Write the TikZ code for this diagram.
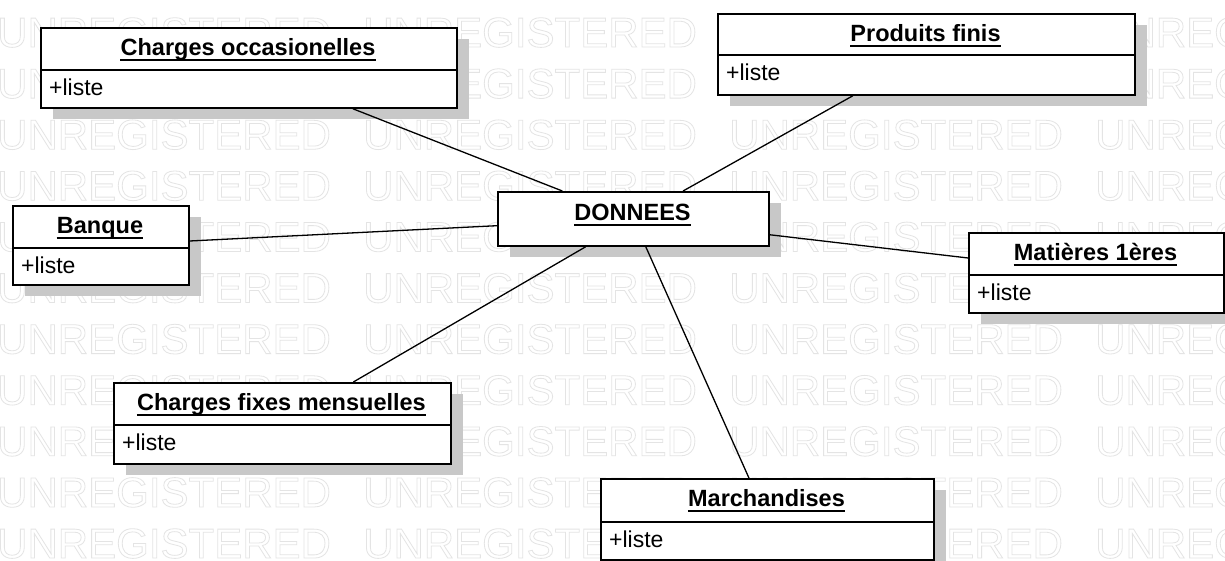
\documentclass[tikz,border=0pt]{standalone}
\usepackage{fontspec}
\setmainfont{Liberation Sans}
\definecolor{shadowc}{HTML}{C8C8C8}
\definecolor{wmc}{HTML}{E4E4E4}
\newcommand\outlinetext[1]{\special{pdf:literal 1 Tr 0.8 w}#1\special{pdf:literal 0 Tr}}
\tikzset{
  wm/.style={inner sep=0pt, text=wmc, font=\fontsize{42}{42}\selectfont},
  classbox/.style={draw=black, fill=white, line width=1.8pt, inner sep=0pt},
  titlef/.style={inner sep=0pt, font=\fontsize{23.5}{28}\selectfont\bfseries},
  attrf/.style={inner sep=0pt, font=\fontsize{23}{28}\selectfont},
  ulin/.style={line width=1.4pt},
  divline/.style={line width=1.8pt},
  conn/.style={line width=1.3pt}
}
\newcommand\umlcls[7]{% name,l,t,r,b,div,title
  \pgfmathsetmacro\cw{#4-#2}\pgfmathsetmacro\ch{#5-#3}%
  \fill[shadowc] (#2+13,#3+12) rectangle (#4+13,#5+12);
  \node[classbox,minimum width=\cw pt,minimum height=\ch pt,anchor=north west] (#1) at (#2,#3) {};
  \node[titlef,anchor=base] (#1-t) at ({(#2+#4)/2},#3+28) {#7};
  \draw[ulin] ([yshift=-5pt]#1-t.base west) -- ([yshift=-5pt]#1-t.base east);
  \draw[divline] (#2,#6) -- (#4,#6);
  \node[attrf,anchor=base west] (#1-a) at (#2+9,#6+25) {+liste};
}
\begin{document}
\begin{tikzpicture}[x=1pt,y=-1pt]
\useasboundingbox (0,0) rectangle (1225,560);
\fill[white] (0,0) rectangle (1225,560);
% watermark
\foreach \r in {0,...,10}{
  \foreach \c in {0,...,3}{
    \node[wm,anchor=base west] (wm-\r-\c) at ({366*\c-3},{47+51.1*\r}) {\outlinetext{UNREGISTERED}};
  }
}
% DONNEES
\fill[shadowc] (497+13,191+12) rectangle (768+13,245+12);
\node[classbox,minimum width=271pt,minimum height=54pt,anchor=north west] (do) at (497,191) {};
\node[titlef,anchor=base] (do-t) at (632.5,220) {DONNEES};
\draw[ulin] ([yshift=-5pt]do-t.base west) -- ([yshift=-5pt]do-t.base east);
% classes
\umlcls{co}{40}{27}{456}{107}{70}{Charges occasionelles}
\umlcls{pf}{717}{13}{1134}{94}{55}{Produits finis}
\umlcls{ba}{12}{205}{188}{284}{248}{Banque}
\umlcls{ma}{968}{232}{1223}{312}{275}{Matières 1ères}
\umlcls{cf}{113}{382}{450}{463}{425}{Charges fixes mensuelles}
\umlcls{mc}{600}{478}{933}{559}{522}{Marchandises}
% connectors
\draw[conn] (co) -- (do);
\draw[conn] (pf) -- (do);
\draw[conn] (ba) -- (do);
\draw[conn] (do) -- (ma);
\draw[conn] (do) -- (cf);
\draw[conn] (do) -- (mc);
\end{tikzpicture}
\end{document}
